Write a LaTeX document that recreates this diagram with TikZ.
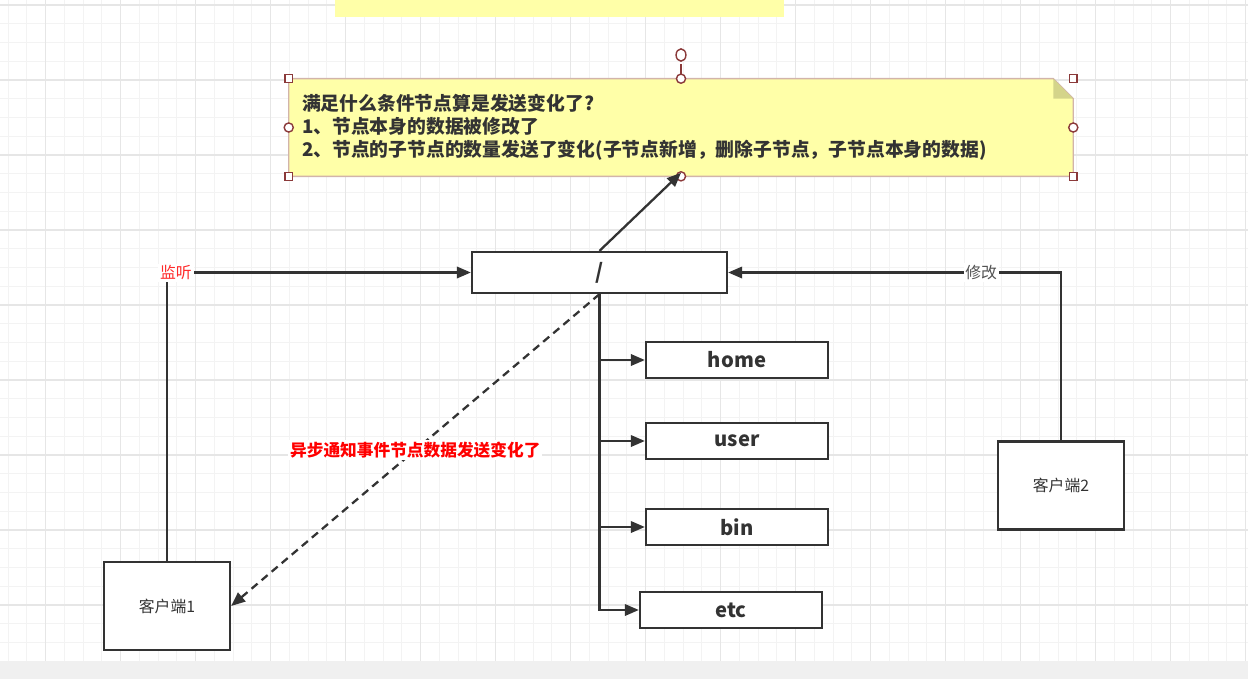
\documentclass[tikz,border=0pt]{standalone}
\usepackage{fontspec}
\setmainfont{Noto Sans CJK SC}
\usepackage{xcolor}
\usetikzlibrary{arrows.meta,shapes}
\definecolor{ink}{HTML}{333333}
\definecolor{notefill}{HTML}{FFFFA8}
\definecolor{noteline}{HTML}{D2B4AA}
\definecolor{fold}{HTML}{D4D48A}
\definecolor{handle}{HTML}{8B3A3A}
\definecolor{gridminor}{HTML}{F3F3F3}
\definecolor{gridmajor}{HTML}{E6E6E6}
\definecolor{band}{HTML}{F0F0F0}
\definecolor{redlabel}{HTML}{FF2A2A}

\begin{document}
\begin{tikzpicture}[x=0.02cm,y=-0.02cm,>={Triangle[length=8pt,width=6.5pt]},
  box/.style={draw=ink,line width=1.3pt,fill=white,inner sep=0pt},
  dirbox/.style={box,minimum width=3.64cm,minimum height=0.72cm,font=\fontsize{11.5}{13}\selectfont\bfseries,text=ink},
  clientbox/.style={box,minimum width=2.52cm,minimum height=1.76cm,font=\fontsize{9}{11}\selectfont,text=ink},
  link/.style={draw=ink,line width=1.3pt},
  tag/.style={fill=white,inner sep=1pt,font=\fontsize{9}{11}\selectfont}]
\useasboundingbox (0,0) rectangle (1248,679);
% background grid
\foreach \gx in {8.2,26.95,...,1248}
  \draw[gridminor,line width=0.6pt] (\gx,0) -- (\gx,661);
\foreach \gy in {5,23.75,...,661}
  \draw[gridminor,line width=0.6pt] (0,\gy) -- (1248,\gy);
\foreach \gx in {45.7,120.7,...,1248}
  \draw[gridmajor,line width=0.6pt] (\gx,0) -- (\gx,661);
\foreach \gy in {5,80,...,661}
  \draw[gridmajor,line width=0.6pt] (0,\gy) -- (1248,\gy);
\fill[band] (0,661) rectangle (1248,679);
\fill[notefill] (335,0) rectangle (784,17);

% note
\node[inner sep=0pt,minimum width=15.68cm,minimum height=1.94cm] (note) at (681,127.5) {};
\fill[notefill,draw=noteline,line width=0.8pt] (note.north west) -- ([xshift=-0.4cm]note.north east)
  -- ([yshift=-0.4cm]note.north east) -- (note.south east) -- (note.south west) -- cycle;
\fill[fold] ([xshift=-0.4cm]note.north east) -- ([xshift=-0.4cm,yshift=-0.4cm]note.north east)
  -- ([yshift=-0.4cm]note.north east) -- cycle;
\node[inner sep=0.26cm,text width=15.16cm,align=left,
  font=\fontsize{10.7}{13}\selectfont\bfseries,text=ink] (notetext) at (note)
  {满足什么条件节点算是发送变化了?\\
   1、节点本身的数据被修改了\\
   2、节点的子节点的数量发送了变化(子节点新增，删除子节点，子节点本身的数据)};
% selection handles
\coordinate (rot) at (681,55);
\draw[handle,line width=0.8pt] (note.north) -- ([yshift=-0.18cm]rot);
\draw[handle,fill=white,line width=0.8pt] (rot) ellipse[x radius=2.8pt,y radius=3.5pt];
\foreach \a in {north west,north east,south west,south east}
  \draw[handle,fill=white,line width=0.8pt] ([xshift=-2.2pt,yshift=-2.2pt]note.\a) rectangle ([xshift=2.2pt,yshift=2.2pt]note.\a);
\foreach \a in {north,south,east,west}
  \draw[handle,fill=white,line width=0.8pt] (note.\a) circle[radius=2.6pt];

% tree
\node[box,minimum width=5.1cm,minimum height=0.82cm,font=\fontsize{12}{14}\selectfont\bfseries,text=ink] (root) at (599.5,272.5) {/};
\node[dirbox] (home) at (737,360) {home};
\node[dirbox] (user) at (737,441) {user};
\node[dirbox] (bin) at (737,527) {bin};
\node[dirbox] (etc) at (731,610) {etc};
\node[clientbox] (client1) at (167,606) {客户端1};
\node[clientbox] (client2) at (1061,485.5) {客户端2};

\draw[link,->] (root.north) -- ([yshift=2pt]note.south);
\foreach \d in {home,user,bin,etc}
  \draw[link,->] (root.south) |- (\d.west);
\draw[link,->] (client1.north) |- (root.west)
  node[tag,pos=0.5,xshift=0.18cm,text=redlabel] {监听};
\draw[link,->] (client2.north) |- (root.east)
  node[tag,pos=0.62,text=ink!85] {修改};
\draw[link,->,dash pattern=on 4.5pt off 3pt] (root.south) -- (client1.east)
  node[tag,pos=0.5,text=red,font=\fontsize{9.5}{11}\selectfont\bfseries] {异步通知事件节点数据发送变化了};
\end{tikzpicture}
\end{document}
